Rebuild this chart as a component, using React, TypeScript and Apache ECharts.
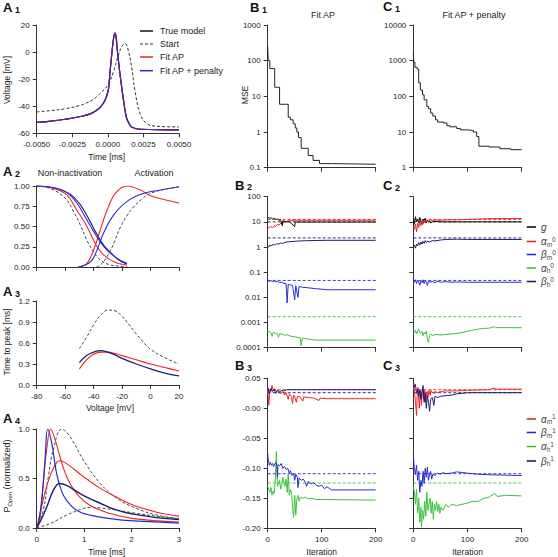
import React, { useEffect, useRef } from "react";
import * as echarts from "echarts";

const FONT = "'Liberation Sans', Arial, Helvetica, sans-serif";
const RED = "#e8262a";
const BLUE = "#2a2ad2";
const NAVY = "#1c1c72";
const GREEN = "#3cc23c";
const BLACK = "#111111";

// ---------- A1: action potentials (time [ms], voltage [mV]) ----------
const a1FitAP: number[][] = [[-0.005,-52],[-0.004,-51],[-0.003,-49.6],[-0.002,-47.8],[-0.0012,-45.5],[-0.0006,-41.5],[-0.0003,-37.5],[-0.0001,-33],[0.00005,-27],[0.00015,-15],[0.0003,1],[0.0004,10],[0.0005,14],[0.00058,11],[0.00066,2],[0.00085,-16],[0.0011,-35.5],[0.0013,-48],[0.0015,-53],[0.0017,-55.5],[0.0023,-57],[0.005,-57.5]];
const a1Penalty: number[][] = a1FitAP;
const a1True: number[][] = a1FitAP;
const a1Start: number[][] = [[-0.005,-44.2],[-0.004,-43.2],[-0.003,-41.9],[-0.002,-39.5],[-0.0015,-37.6],[-0.001,-34.8],[-0.00055,-30.6],[0,-24.4],[0.00039,-14.6],[0.00074,-2.2],[0.00097,3.9],[0.0012,6.4],[0.00143,1.5],[0.00167,-10.9],[0.0019,-28.1],[0.00226,-45.4],[0.00273,-52.8],[0.0034,-54.8],[0.005,-55.3]];

// ---------- A2: steady-state curves (voltage [mV]) ----------
const a2InactStart: number[][] = [[-80,1],[-70.6,0.97],[-60,0.85],[-54,0.68],[-49.4,0.52],[-44.7,0.33],[-40,0.19],[-35.3,0.086],[-28.2,0.025],[-16.5,0.004]];
const a2InactFit: number[][] = [[-80,1],[-68.2,0.97],[-58.8,0.89],[-51.8,0.7],[-45.9,0.54],[-42.4,0.42],[-37.6,0.25],[-33,0.15],[-25.9,0.066],[-16.5,0.025]];
const a2InactPen: number[][] = [[-80,1],[-68.2,0.98],[-58.8,0.92],[-51.8,0.79],[-44.7,0.58],[-40,0.44],[-35.3,0.31],[-30.6,0.21],[-23.5,0.107],[-16.5,0.045]];
const a2InactTrue: number[][] = [[-80,1],[-65.9,0.97],[-56.5,0.9],[-49.4,0.77],[-42.4,0.56],[-37.6,0.4],[-33,0.27],[-28.2,0.18],[-22.4,0.086],[-16.5,0.037]];
const a2ActStart: number[][] = [[-38,0],[-35,0.03],[-32,0.09],[-28,0.21],[-25,0.33],[-21,0.5],[-17,0.62],[-12,0.74],[-6,0.84],[0,0.91],[10,0.96],[20,0.99]];
const a2ActFit: number[][] = [[-50.6,0],[-44.7,0.045],[-40,0.21],[-35.3,0.46],[-30.6,0.7],[-24.7,0.91],[-16.5,1.0],[-7,0.95],[0,0.88],[10,0.83],[20,0.79]];
const a2ActPen: number[][] = [[-50.6,0],[-42,0.066],[-37.6,0.21],[-33,0.42],[-26,0.64],[-16.5,0.81],[-4.7,0.91],[7,0.95],[20,0.99]];

// ---------- A3: time to peak [ms] vs voltage ----------
const a3Start: number[][] = [[-50,0.52],[-45,0.68],[-40,0.86],[-35,1.0],[-30,1.07],[-25,1.06],[-20,0.98],[-15,0.86],[-10,0.73],[-5,0.61],[0,0.51],[10,0.39],[20,0.3]];
const a3Fit: number[][] = [[-50,0.23],[-45,0.36],[-40,0.44],[-35,0.47],[-30,0.47],[-25,0.45],[-20,0.42],[-10,0.36],[0,0.3],[10,0.25],[20,0.2]];
const a3Pen: number[][] = [[-50,0.32],[-45,0.42],[-40,0.47],[-35,0.49],[-30,0.47],[-25,0.43],[-20,0.38],[-10,0.3],[0,0.23],[10,0.17],[20,0.13]];

// ---------- A4: normalized open probability vs time [ms] ----------
const a4StartHigh: number[][] = [[0,0],[0.14,0.18],[0.246,0.52],[0.35,0.79],[0.527,1.0],[0.7,0.925],[0.98,0.69],[1.34,0.45],[1.69,0.3],[2.04,0.21],[2.53,0.13],[3,0.095]];
const a4FitHigh: number[][] = [[0,0],[0.07,0.11],[0.14,0.45],[0.21,0.79],[0.295,1.0],[0.39,0.89],[0.49,0.72],[0.63,0.52],[0.84,0.35],[1.12,0.23],[1.55,0.146],[2.04,0.095],[3,0.061]];
const a4PenHigh: number[][] = [[0,0],[0.035,0.044],[0.105,0.28],[0.176,0.69],[0.232,1.0],[0.316,0.86],[0.42,0.55],[0.527,0.37],[0.63,0.28],[0.84,0.18],[1.12,0.13],[1.55,0.095],[2.04,0.071],[3,0.05]];
const a4StartLow: number[][] = [[0,0],[0.28,0.044],[0.63,0.13],[0.98,0.197],[1.12,0.207],[1.34,0.203],[1.69,0.18],[2.04,0.153],[2.53,0.119],[3,0.095]];
const a4FitLow: number[][] = [[0,0],[0.07,0.146],[0.21,0.42],[0.35,0.6],[0.48,0.68],[0.63,0.65],[0.98,0.52],[1.34,0.4],[1.69,0.31],[2.04,0.23],[2.53,0.16],[3,0.12]];
const a4PenLow: number[][] = [[0,0],[0.07,0.06],[0.21,0.21],[0.35,0.38],[0.48,0.45],[0.63,0.43],[0.98,0.33],[1.34,0.25],[1.69,0.18],[2.04,0.14],[2.53,0.105],[3,0.085]];

// ---------- B1 / C1: MSE vs iteration ----------
const b1Mse: number[][] = [[0,250],[1,100],[4,60],[13,18],[22,6],[38,2.6],[42,2.2],[47,1.7],[51,1.3],[54,1.0],[57,0.7],[62,0.35],[75,0.22],[84,0.16],[96,0.13],[120,0.125],[200,0.125]];
const c1Mse: number[][] = [[0,1600],[1,900],[3,650],[7,580],[10,240],[13,150],[17,110],[20,80],[25,52],[28,45],[32,34],[36,28],[41,22],[45,19],[56,18],[62,15],[68,14],[80,12.5],[87,11.5],[100,11],[111,10],[117,7.5],[121,4],[140,3.8],[160,3.4],[180,3.2],[200,3.1]];

// ---------- B2 / C2: parameters (log) vs iteration ----------
const trueG = 10, trueAm0 = 12.5, trueBh0 = 2.3, trueBm0 = 0.047, trueAh0 = 0.0017;
const b2G: number[][] = [[0,15],[3,14],[6,14.5],[9,13],[12,14],[15,12.5],[18,13],[21,11.5],[24,12],[27,7],[28,11],[32,10.5],[36,10],[40,10.2],[50,6.5],[51,9.8],[60,9.8],[200,9.8]];
const b2Am0: number[][] = [[0,5.6],[3,6],[6,6.5],[9,5.8],[12,7],[15,6.6],[18,8],[21,7.5],[24,9],[27,8.2],[30,10],[33,9.5],[36,11],[40,10.8],[45,11.5],[55,11.6],[200,11.6]];
const b2Bh0: number[][] = [[0,1.1],[2,1.0],[4,1.2],[6,1.1],[8,1.25],[10,1.15],[12,1.3],[14,1.2],[17,1.35],[20,1.3],[24,1.45],[28,1.4],[32,1.55],[38,1.6],[45,1.65],[55,1.72],[70,1.78],[90,1.82],[110,1.85],[200,1.85]];
const b2Bm0: number[][] = [[0,0.047],[3,0.044],[6,0.046],[9,0.042],[12,0.045],[15,0.041],[18,0.043],[22,0.039],[26,0.04],[30,0.036],[34,0.035],[36,0.006],[38,0.033],[42,0.031],[46,0.03],[50,0.008],[52,0.029],[56,0.01],[58,0.027],[65,0.025],[75,0.024],[90,0.022],[112,0.02],[200,0.02]];
const b2Ah0: number[][] = [[0,0.00042],[3,0.00045],[6,0.0004],[8,0.00028],[10,0.0004],[14,0.00038],[18,0.00036],[20,0.00026],[22,0.00036],[28,0.00034],[32,0.00031],[36,0.00033],[40,0.0003],[45,0.00028],[50,0.00027],[55,0.00026],[60,0.00025],[62,0.00012],[64,0.00024],[70,0.00023],[80,0.00021],[90,0.0002],[200,0.0002]];
const c2G: number[][] = [[0,14],[2,8],[4,16],[6,10],[8,13],[10,9],[12,15],[14,11],[16,8],[18,13],[20,10],[22,14],[24,9],[26,12],[28,10],[30,11],[32,9],[35,10],[40,10.5],[50,10],[200,10]];
const c2Am0: number[][] = [[0,6],[2,5],[4,8],[6,4],[8,9],[10,6],[12,10],[14,7],[16,11],[18,8],[20,12],[22,9],[25,11],[28,10],[32,12],[36,11],[40,12],[50,11.5],[60,12],[80,12],[100,12.5],[120,13],[150,13.5],[200,13.5]];
const c2Bh0: number[][] = [[0,1.0],[2,1.2],[4,0.9],[6,1.3],[8,1.1],[10,1.5],[12,1.2],[14,1.6],[16,1.3],[18,1.7],[20,1.4],[22,1.8],[24,1.5],[26,1.7],[30,1.6],[35,1.8],[40,1.75],[50,1.9],[60,2.0],[80,2.05],[100,2.0],[200,2.0]];
const c2Bm0: number[][] = [[0,0.05],[2,0.04],[4,0.05],[6,0.035],[8,0.048],[10,0.04],[12,0.03],[14,0.046],[16,0.038],[18,0.05],[20,0.035],[22,0.045],[24,0.04],[26,0.03],[28,0.045],[30,0.04],[35,0.043],[40,0.038],[45,0.044],[50,0.04],[60,0.042],[70,0.04],[80,0.041],[100,0.04],[200,0.04]];
const c2Ah0: number[][] = [[0,0.00045],[2,0.0004],[4,0.0005],[6,0.00035],[8,0.00045],[10,0.00055],[12,0.0004],[14,0.00038],[16,0.00045],[18,0.0003],[20,0.0004],[22,0.00035],[24,0.00045],[26,0.00022],[28,0.00016],[30,0.0003],[32,0.00035],[36,0.0003],[40,0.00034],[50,0.00032],[60,0.00034],[70,0.00035],[80,0.00037],[90,0.0004],[100,0.00045],[110,0.0005],[120,0.00055],[130,0.00058],[140,0.0006],[150,0.00068],[152,0.00062],[160,0.00063],[200,0.00062]];

// ---------- B3 / C3: parameters (linear) vs iteration ----------
const trueAm1 = 0.031, trueBh1 = 0.026, trueBm1 = -0.109, trueAh1 = -0.1245;
const b3Am1: number[][] = [[0,0.035],[2,0.005],[4,0.03],[6,0.028],[8,0.038],[10,0.03],[13,0.033],[16,0.028],[20,0.03],[24,0.024],[28,0.028],[31,0.022],[34,0.026],[38,0.015],[40,0.024],[44,0.02],[46,0.008],[48,0.022],[50,0.02],[53,0.01],[55,0.02],[60,0.019],[65,0.012],[67,0.019],[75,0.018],[85,0.017],[95,0.013],[97,0.017],[110,0.016],[200,0.016]];
const b3Bh1: number[][] = [[0,0.035],[3,0.025],[6,0.033],[9,0.028],[12,0.031],[15,0.025],[18,0.03],[22,0.027],[26,0.03],[30,0.029],[35,0.031],[200,0.031]];
const b3Bm1: number[][] = [[0,-0.075],[1,-0.085],[3,-0.095],[5,-0.09],[7,-0.095],[9,-0.092],[11,-0.097],[13,-0.093],[15,-0.09],[17,-0.095],[18,-0.115],[19,-0.094],[22,-0.096],[25,-0.092],[28,-0.1],[31,-0.097],[34,-0.102],[37,-0.1],[40,-0.108],[42,-0.104],[45,-0.112],[48,-0.108],[50,-0.12],[52,-0.11],[55,-0.115],[56,-0.132],[58,-0.116],[62,-0.12],[66,-0.118],[70,-0.124],[72,-0.13],[75,-0.122],[80,-0.126],[85,-0.124],[90,-0.128],[95,-0.13],[100,-0.128],[105,-0.134],[110,-0.131],[115,-0.134],[118,-0.136],[200,-0.136]];
const b3Ah1: number[][] = [[0,-0.13],[2,-0.135],[4,-0.14],[6,-0.132],[8,-0.145],[10,-0.138],[12,-0.142],[14,-0.12],[16,-0.072],[18,-0.13],[20,-0.125],[22,-0.12],[24,-0.135],[26,-0.128],[28,-0.115],[30,-0.125],[32,-0.13],[34,-0.118],[36,-0.14],[38,-0.11],[40,-0.145],[42,-0.135],[44,-0.14],[46,-0.165],[48,-0.182],[50,-0.145],[52,-0.178],[54,-0.15],[56,-0.145],[58,-0.155],[60,-0.148],[65,-0.15],[70,-0.148],[75,-0.151],[80,-0.15],[90,-0.152],[100,-0.152],[200,-0.153]];
const c3Am1: number[][] = [[0,0.045],[2,0.03],[4,0.01],[6,-0.012],[7,0.02],[9,0.035],[11,0.0],[13,0.03],[15,0.005],[17,0.032],[19,0.015],[21,0.03],[23,0.01],[25,0.028],[27,0.018],[29,0.03],[31,0.022],[33,0.03],[36,0.025],[40,0.028],[45,0.026],[50,0.028],[60,0.029],[80,0.029],[100,0.03],[140,0.031],[150,0.034],[152,0.032],[200,0.032]];
const c3Bh1: number[][] = [[0,0.045],[2,0.035],[4,0.04],[6,0.025],[8,0.032],[10,0.02],[12,0.03],[14,0.015],[16,0.028],[18,0.038],[20,0.01],[22,0.025],[24,0.0],[26,0.02],[28,0.01],[30,-0.005],[32,0.015],[35,0.018],[38,0.005],[40,0.02],[45,0.018],[50,0.02],[60,0.021],[70,0.022],[80,0.024],[90,0.025],[100,0.026],[200,0.026]];
const c3Bm1: number[][] = [[0,-0.075],[1,-0.09],[2,-0.1],[4,-0.11],[6,-0.095],[8,-0.12],[10,-0.105],[12,-0.14],[14,-0.12],[16,-0.13],[18,-0.105],[20,-0.125],[22,-0.1],[24,-0.115],[26,-0.098],[28,-0.12],[30,-0.11],[32,-0.105],[34,-0.118],[36,-0.11],[40,-0.112],[45,-0.108],[50,-0.11],[55,-0.107],[60,-0.109],[70,-0.108],[80,-0.106],[90,-0.107],[100,-0.108],[120,-0.11],[150,-0.111],[200,-0.112]];
const c3Ah1: number[][] = [[0,-0.13],[2,-0.14],[4,-0.16],[6,-0.135],[8,-0.175],[10,-0.15],[12,-0.19],[14,-0.165],[15,-0.198],[17,-0.17],[19,-0.185],[21,-0.155],[23,-0.18],[25,-0.14],[27,-0.17],[29,-0.16],[31,-0.15],[33,-0.175],[35,-0.155],[37,-0.185],[39,-0.16],[41,-0.17],[43,-0.155],[45,-0.172],[47,-0.16],[49,-0.175],[51,-0.165],[55,-0.17],[60,-0.16],[65,-0.165],[70,-0.16],[80,-0.162],[90,-0.16],[100,-0.158],[110,-0.155],[120,-0.155],[130,-0.15],[140,-0.148],[150,-0.142],[155,-0.147],[170,-0.145],[200,-0.146]];

// tick labels
const a1XTicks = ["-0.0050", "-0.0025", "0.0000", "0.0025", "0.0050"];
const iterTicks = ["0", "100", "200"];

const hline = (v: number) => [[0, v], [200, v]];

const grids = [
  { left: 36.7, top: 25, width: 142.3, height: 108.3 },   // 0 A1
  { left: 36.7, top: 186, width: 142.3, height: 81 },     // 1 A2
  { left: 36.7, top: 301, width: 142.3, height: 84 },     // 2 A3
  { left: 36.7, top: 429, width: 142.3, height: 99 },     // 3 A4
  { left: 267.7, top: 25, width: 108, height: 142.7 },    // 4 B1
  { left: 413.3, top: 25, width: 108.4, height: 142.7 },  // 5 C1
  { left: 267.7, top: 196.7, width: 108, height: 151 },   // 6 B2
  { left: 413.3, top: 196.7, width: 108.4, height: 151 }, // 7 C2
  { left: 267.7, top: 378.3, width: 108, height: 150 },   // 8 B3
  { left: 413.3, top: 378.3, width: 108.4, height: 150 }, // 9 C3
];

const axisCommon = (gridIndex: number, showLabel: boolean, formatter?: any) => ({
  gridIndex,
  axisLine: { show: true, onZero: false, lineStyle: { color: "#333", width: 1 } },
  axisTick: { show: true, length: 4, lineStyle: { color: "#333", width: 1 } },
  splitLine: { show: false },
  axisLabel: { show: showLabel, fontFamily: FONT, fontSize: 8, color: "#222", margin: 7, formatter },
});

const logFmt = (v: number) => {
  const e = Math.round(Math.log10(v));
  return e < 0 ? Math.pow(10, e).toFixed(-e) : String(Math.round(Math.pow(10, e)));
};
const b3Fmt = (v: number) => (Math.abs(v) < 1e-9 ? "-0.00" : v.toFixed(2));

function line(i: number, data: number[][], color: string, o: any = {}) {
  return {
    type: "line",
    xAxisIndex: i,
    yAxisIndex: i,
    data,
    symbol: "none",
    showSymbol: false,
    silent: true,
    smooth: o.smooth ?? false,
    step: o.step ?? false,
    lineStyle: { color, width: o.width ?? 1.1, type: o.dash ? [3, 2] : "solid" },
    z: o.z ?? 2,
  };
}

function txt(x: number, y: number, text: string, o: any = {}) {
  const align = o.align ?? "center";
  const valign = o.valign ?? "middle";
  return {
    type: "text",
    x,
    y,
    rotation: o.rotation ?? 0,
    silent: true,
    style: {
      text,
      fontFamily: FONT,
      fontSize: o.size ?? 9,
      fontWeight: o.weight ?? "normal",
      fontStyle: o.fontStyle ?? "normal",
      fill: o.color ?? "#222",
      align,
      verticalAlign: valign,
      textAlign: align,
      textVerticalAlign: valign,
      rich: o.rich,
    },
  };
}

function panelLabel(x: number, y: number, letter: string, num: string) {
  return txt(x, y, `{a|${letter}}{n| ${num}}`, {
    align: "left",
    rich: {
      a: { fontFamily: FONT, fontSize: 13, fontWeight: "bold", fill: "#111", lineHeight: 12, verticalAlign: "bottom" },
      n: { fontFamily: FONT, fontSize: 9, fontWeight: "bold", fill: "#111", lineHeight: 9, verticalAlign: "bottom" },
    },
  });
}

function legLine(x1: number, x2: number, y: number, color: string, dash = false, width = 1.5) {
  return {
    type: "line",
    silent: true,
    shape: { x1, y1: y, x2, y2: y },
    style: { stroke: color, lineWidth: width, lineDash: dash ? [3, 2] : null },
  };
}

const greekRich = {
  g: { fontFamily: FONT, fontSize: 10, fontStyle: "italic", fill: "#444", lineHeight: 12, verticalAlign: "middle" },
  sb: { fontFamily: FONT, fontSize: 6.5, fontStyle: "normal", fill: "#444", lineHeight: 6, verticalAlign: "bottom" },
  sp: { fontFamily: FONT, fontSize: 6.5, fontStyle: "normal", fill: "#444", lineHeight: 6, verticalAlign: "top" },
};

function paramLegend(y: number, color: string, greek: string, sub: string, sup: string) {
  const text = sub ? `{g|${greek}}{sb|${sub}}{sp|${sup}}` : `{g|${greek}}`;
  return [legLine(526.7, 536, y, color, false, 1.6), txt(541, y, text, { align: "left", rich: greekRich })];
}

export default function App() {
  const ref = useRef<HTMLDivElement>(null);
  useEffect(() => {
    if (!ref.current) return;
    const chart = echarts.init(ref.current, undefined, { renderer: "svg" });
    const xAxes: any[] = [
      { type: "value", min: -0.005, max: 0.005, interval: 0.0025, ...axisCommon(0, true, (v: number) => a1XTicks[Math.round((v + 0.005) / 0.0025)]) },
      { type: "value", min: -80, max: 20, interval: 20, ...axisCommon(1, false) },
      { type: "value", min: -80, max: 20, interval: 20, ...axisCommon(2, true) },
      { type: "value", min: 0, max: 3, interval: 1, ...axisCommon(3, true) },
      { type: "value", min: 0, max: 200, interval: 100, ...axisCommon(4, false) },
      { type: "value", min: 0, max: 200, interval: 100, ...axisCommon(5, false) },
      { type: "value", min: 0, max: 200, interval: 100, ...axisCommon(6, false) },
      { type: "value", min: 0, max: 200, interval: 100, ...axisCommon(7, false) },
      { type: "value", min: 0, max: 200, interval: 100, ...axisCommon(8, true, (v: number) => iterTicks[Math.round(v / 100)]) },
      { type: "value", min: 0, max: 200, interval: 100, ...axisCommon(9, true, (v: number) => iterTicks[Math.round(v / 100)]) },
    ];
    const yAxes: any[] = [
      { type: "value", min: -60, max: 20, interval: 20, ...axisCommon(0, true) },
      { type: "value", min: 0, max: 1, interval: 0.25, ...axisCommon(1, true, (v: number) => v.toFixed(2)) },
      { type: "value", min: 0, max: 1.2, interval: 0.3, ...axisCommon(2, true, (v: number) => v.toFixed(1)) },
      { type: "value", min: 0, max: 1, interval: 0.5, ...axisCommon(3, true, (v: number) => v.toFixed(1)) },
      { type: "log", logBase: 10, min: 0.1, max: 1000, ...axisCommon(4, true, logFmt) },
      { type: "log", logBase: 10, min: 1, max: 10000, ...axisCommon(5, true, logFmt) },
      { type: "log", logBase: 10, min: 0.0001, max: 100, ...axisCommon(6, true, logFmt) },
      { type: "log", logBase: 10, min: 0.0001, max: 100, ...axisCommon(7, false) },
      { type: "value", min: -0.2, max: 0.05, interval: 0.05, ...axisCommon(8, true, b3Fmt) },
      { type: "value", min: -0.2, max: 0.05, interval: 0.05, ...axisCommon(9, false) },
    ];

    const series: any[] = [
      // A1
      line(0, a1Start, "#333", { dash: true, smooth: 0.4, width: 1 }),
      line(0, a1True, BLACK, { smooth: 0.4, width: 1.2 }),
      line(0, a1FitAP, RED, { smooth: 0.4, width: 1.2 }),
      line(0, a1Penalty, "#3a2aa8", { smooth: 0.4, width: 1.2 }),
      // A2
      line(1, a2InactStart, "#333", { dash: true, smooth: 0.4, width: 0.9 }),
      line(1, a2ActStart, "#333", { dash: true, smooth: 0.4, width: 0.9 }),
      line(1, a2InactTrue, NAVY, { smooth: 0.4, width: 1.1 }),
      line(1, a2InactFit, RED, { smooth: 0.4, width: 1.1 }),
      line(1, a2ActFit, RED, { smooth: 0.4, width: 1.1 }),
      line(1, a2InactPen, BLUE, { smooth: 0.4, width: 1.1 }),
      line(1, a2ActPen, BLUE, { smooth: 0.4, width: 1.1 }),
      // A3
      line(2, a3Start, "#333", { dash: true, smooth: 0.4, width: 0.9 }),
      line(2, a3Fit, RED, { smooth: 0.4, width: 1.1 }),
      line(2, a3Pen, NAVY, { smooth: 0.4, width: 1.3 }),
      // A4
      line(3, a4StartHigh, "#333", { dash: true, smooth: 0.4, width: 0.9 }),
      line(3, a4StartLow, "#333", { dash: true, smooth: 0.4, width: 0.9 }),
      line(3, a4FitHigh, RED, { smooth: 0.4, width: 1.1 }),
      line(3, a4FitLow, RED, { smooth: 0.4, width: 1.1 }),
      line(3, a4PenHigh, BLUE, { smooth: 0.4, width: 1.2 }),
      line(3, a4PenLow, NAVY, { smooth: 0.4, width: 1.4 }),
      // B1 / C1
      line(4, b1Mse, "#222", { step: "end", width: 1 }),
      line(5, c1Mse, "#222", { step: "end", width: 1 }),
      // B2
      line(6, hline(trueG), "#222", { dash: true, width: 0.9 }),
      line(6, hline(trueAm0), RED, { dash: true, width: 0.9 }),
      line(6, hline(trueBh0), NAVY, { dash: true, width: 0.9 }),
      line(6, hline(trueBm0), BLUE, { dash: true, width: 0.9 }),
      line(6, hline(trueAh0), GREEN, { dash: true, width: 0.9 }),
      line(6, b2Am0, RED, { width: 1 }),
      line(6, b2G, BLACK, { width: 1 }),
      line(6, b2Bh0, NAVY, { width: 1 }),
      line(6, b2Bm0, BLUE, { width: 1 }),
      line(6, b2Ah0, GREEN, { width: 1 }),
      // C2
      line(7, hline(trueG), "#222", { dash: true, width: 0.9 }),
      line(7, hline(trueAm0), RED, { dash: true, width: 0.9 }),
      line(7, hline(trueBh0), NAVY, { dash: true, width: 0.9 }),
      line(7, hline(trueBm0), BLUE, { dash: true, width: 0.9 }),
      line(7, hline(trueAh0), GREEN, { dash: true, width: 0.9 }),
      line(7, c2G, BLACK, { width: 1 }),
      line(7, c2Am0, RED, { width: 1 }),
      line(7, c2Bh0, NAVY, { width: 1 }),
      line(7, c2Bm0, BLUE, { width: 1 }),
      line(7, c2Ah0, GREEN, { width: 1 }),
      // B3
      line(8, hline(trueAm1), RED, { dash: true, width: 0.9 }),
      line(8, hline(trueBh1), NAVY, { dash: true, width: 0.9 }),
      line(8, hline(trueBm1), BLUE, { dash: true, width: 0.9 }),
      line(8, hline(trueAh1), GREEN, { dash: true, width: 0.9 }),
      line(8, b3Am1, RED, { width: 1 }),
      line(8, b3Bh1, NAVY, { width: 1 }),
      line(8, b3Ah1, GREEN, { width: 1 }),
      line(8, b3Bm1, BLUE, { width: 1 }),
      // C3
      line(9, hline(trueAm1), RED, { dash: true, width: 0.9 }),
      line(9, hline(trueBh1), NAVY, { dash: true, width: 0.9 }),
      line(9, hline(trueBm1), BLUE, { dash: true, width: 0.9 }),
      line(9, hline(trueAh1), GREEN, { dash: true, width: 0.9 }),
      line(9, c3Am1, RED, { width: 1 }),
      line(9, c3Bh1, NAVY, { width: 1 }),
      line(9, c3Ah1, GREEN, { width: 1 }),
      line(9, c3Bm1, BLUE, { width: 1 }),
    ];

    const aRich = {
      p: { fontFamily: FONT, fontSize: 9, fill: "#222", lineHeight: 12, verticalAlign: "middle" },
      s: { fontFamily: FONT, fontSize: 6, fill: "#222", lineHeight: 6, verticalAlign: "bottom" },
    };

    const graphic: any[] = [
      panelLabel(3, 8, "A", "1"),
      panelLabel(250, 8, "B", "1"),
      panelLabel(383, 7, "C", "1"),
      panelLabel(3, 172, "A", "2"),
      panelLabel(235, 185.5, "B", "2"),
      panelLabel(383, 186, "C", "2"),
      panelLabel(3, 292, "A", "3"),
      panelLabel(235, 366, "B", "3"),
      panelLabel(383, 366, "C", "3"),
      panelLabel(3, 419, "A", "4"),
      txt(323, 15, "Fit AP"),
      txt(474, 15, "Fit AP + penalty"),
      txt(70, 173, "Non-inactivation"),
      txt(154, 173, "Activation"),
      txt(106.7, 157, "Time [ms]", { size: 8.5 }),
      txt(110, 408, "Voltage [mV]", { size: 8.5 }),
      txt(106.7, 551.5, "Time [ms]", { size: 8.5 }),
      txt(321.7, 551.5, "Iteration", { size: 8.5 }),
      txt(467.5, 551.5, "Iteration", { size: 8.5 }),
      txt(7, 80, "Voltage [mV]", { size: 8.5, rotation: Math.PI / 2 }),
      txt(7, 342, "Time to peak [ms]", { size: 8.5, rotation: Math.PI / 2 }),
      txt(7, 476, "{p|P}{s|Open}{p| (normalized)}", { size: 8.5, rotation: Math.PI / 2, rich: aRich }),
      txt(245, 95, "MSE", { size: 8.5, rotation: Math.PI / 2 }),
      // A1 legend
      legLine(140, 153, 31, BLACK),
      txt(160, 31, "True model", { align: "left" }),
      legLine(140, 153, 44, "#333", true, 1.2),
      txt(160, 44, "Start", { align: "left" }),
      legLine(140, 153, 57, RED),
      txt(160, 57, "Fit AP", { align: "left" }),
      legLine(140, 153, 70.7, BLUE),
      txt(160, 70.7, "Fit AP + penalty", { align: "left" }),
      // C2 legend
      ...paramLegend(227, BLACK, "g", "", ""),
      ...paramLegend(241.5, RED, "\u03b1", "m", "0"),
      ...paramLegend(254.5, BLUE, "\u03b2", "m", "0"),
      ...paramLegend(268, GREEN, "\u03b1", "h", "0"),
      ...paramLegend(281.5, NAVY, "\u03b2", "h", "0"),
      // C3 legend
      ...paramLegend(419, RED, "\u03b1", "m", "1"),
      ...paramLegend(432.5, BLUE, "\u03b2", "m", "1"),
      ...paramLegend(446.5, GREEN, "\u03b1", "h", "1"),
      ...paramLegend(461, NAVY, "\u03b2", "h", "1"),
    ];

    chart.setOption({
      animation: false,
      backgroundColor: "#ffffff",
      grid: grids.map((g) => ({ ...g, containLabel: false })),
      xAxis: xAxes,
      yAxis: yAxes,
      series,
      graphic,
    });
    return () => chart.dispose();
  }, []);

  return (
    <div
      ref={ref}
      style={{ position: "absolute", left: 0, top: 0, width: 558, height: 557, background: "#fff" }}
    />
  );
}
